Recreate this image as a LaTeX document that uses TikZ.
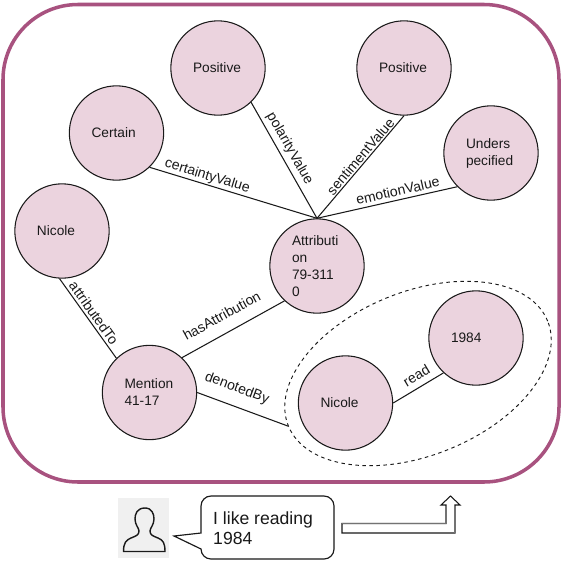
\documentclass[tikz,border=0pt]{standalone}
\usepackage{fontspec}
\setmainfont{Liberation Sans}
\usepackage{xcolor}
\usepackage{tikz}
\usetikzlibrary{arrows.meta,positioning,shapes.geometric,calc}
\definecolor{framepurple}{RGB}{168,82,127}
\definecolor{conceptpink}{RGB}{235,211,222}
\definecolor{iconback}{RGB}{240,240,240}
\definecolor{inkdark}{RGB}{25,25,25}

\begin{document}
\begin{tikzpicture}[x=0.03cm,y=-0.03cm,font=\fontsize{11.7}{14.5}\selectfont,text=inkdark,
    concept/.style={circle,draw=inkdark,fill=conceptpink,line width=0.9pt,minimum size=2.83cm,
      inner sep=0pt,text width=1.5cm,align=left},
    relation/.style={draw=inkdark,line width=0.9pt},
    edgelabel/.style={sloped,above=#1,inner sep=1pt,font=\fontsize{12}{14.5}\selectfont},
    edgelabel/.default=0pt]
  \useasboundingbox (0,0) rectangle (562,560);
  \draw[framepurple,line width=3pt,rounded corners=2.25cm] (3,4.5) rectangle (559,482);

  \node[concept] (polarity) at (218,68) {Positive};
  \node[concept] (sentiment) at (404,68) {Positive};
  \node[concept] (certain) at (116.5,133) {Certain};
  \node[concept] (emotion) at (491,153) {Unders\\pecified};
  \node[concept] (source) at (62,231) {Nicole};
  \node[concept] (attribution) at (317,266) {Attributi\\on\\79-311\\0};
  \node[concept] (mention) at (149.5,392.5) {Mention\\41-17};
  \node[concept] (reader) at (345.5,403) {Nicole};
  \node[concept] (book) at (476,338) {1984};
  \node[ellipse,draw=inkdark,dashed,line width=0.8pt,minimum width=8.39cm,minimum height=4.91cm,
    inner sep=0pt,rotate=22] (group) at (418,373.5) {};

  \draw[relation] (polarity.314) -- node[edgelabel=2pt,pos=.445]{polarityValue} (attribution.north);
  \draw[relation] (sentiment.south) -- node[edgelabel,pos=.44]{sentimentValue} (attribution.north);
  \draw[relation] (emotion.225) -- node[edgelabel=2pt,pos=.41]{emotionValue} (attribution.north);
  \draw[relation] (certain.314) -- node[edgelabel,pos=.33]{certaintyValue} (attribution.north);
  \draw[relation] (source.267) -- node[edgelabel=1pt,pos=.49]{attributedTo} (mention.134);
  \draw[relation] (mention.47) -- node[edgelabel=9pt,pos=.47]{hasAttribution} (attribution.227);
  \draw[relation] (mention.east) -- node[edgelabel=8pt,pos=.37]{denotedBy} (group.180);
  \draw[relation] (reader.east) -- node[edgelabel=4pt,pos=.58]{read} (book.227);

  \fill[iconback] (118,498) rectangle (169,558);
  \draw[inkdark,line width=1.2pt,line join=round] (145,508) .. controls (137,508) and (135,514) .. (135,519)
    .. controls (135,525) and (139,528) .. (139,531) .. controls (139,535) and (136,536) .. (131,538)
    .. controls (126,540) and (123.5,543) .. (123.5,551.5)
    -- (165,551.5) .. controls (165,543) and (163,540) .. (158,538) .. controls (153,536) and (150,535) .. (150,531)
    .. controls (150,528) and (154,525) .. (154,519) .. controls (154,514) and (152,508) .. (145,508) -- cycle;

  \draw[inkdark,line width=1pt,fill=white] (211,496) -- (324,496) arc[start angle=-90,end angle=0,radius=10]
    -- (334,549) arc[start angle=0,end angle=90,radius=10] -- (211,559)
    arc[start angle=90,end angle=180,radius=10] -- (201,549) -- (174,536) -- (201,533) -- (201,506)
    arc[start angle=180,end angle=270,radius=10] -- cycle;
  \node[anchor=north west,inner sep=0pt,align=left,font=\fontsize{15}{17}\selectfont] (utterance) at (213,512) {I like reading\\1984};

  \draw[inkdark,line width=0.9pt,line join=miter,fill=white] (342,523.5) -- (446,523.5) -- (446,505) -- (441,505)
    -- (450.5,496) -- (460,505) -- (455,505) -- (455,533) -- (342,533) -- cycle;
  \draw[black!55,line width=1.2pt] (342,523.5) -- (446,523.5) -- (446,506);
  \draw[black!55,line width=1.2pt] (455,505.5) -- (455,533);
\end{tikzpicture}
\end{document}
